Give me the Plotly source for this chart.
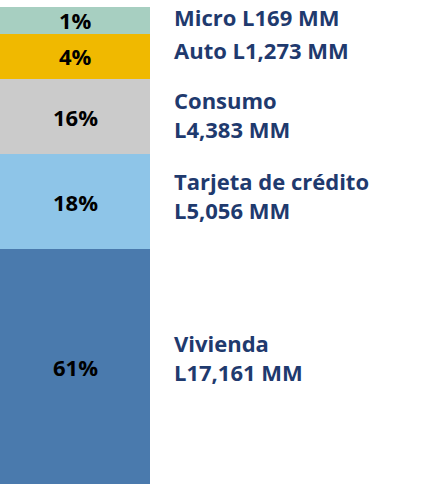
import plotly.graph_objects as go

# Data (bottom to top)
categories = ["Vivienda", "Tarjeta de crédito", "Consumo", "Auto", "Micro"]
amounts = ["L17,161 MM", "L5,056 MM", "L4,383 MM", "L1,273 MM", "L169 MM"]
shares = ["61%", "18%", "16%", "4%", "1%"]
# Visual segment heights as drawn in the reference (not proportional to share)
display_heights = [235, 95, 75, 45.5, 26.5]

colors = ["#4A7AAD", "#8EC5E8", "#CBCBCB", "#F0B900", "#A7CFC1"]
label_shift = [9, 6, 2, 6, 3]          # vertical nudges of right labels (px)
two_line = [True, True, True, False, False]
LINE_HALF_GAP = 14.25
FONT = "Open Sans"

fig = go.Figure()
base = 0
for cat, h, col in zip(categories, display_heights, colors):
    fig.add_trace(go.Bar(x=[0], y=[h], base=[base], width=[1], marker=dict(color=col, line=dict(width=0)),
                         name=cat, hoverinfo="skip", showlegend=False))
    base += h

navy = "#1F3A6E"
base = 0
for cat, amt, sh, h, col, dy, tl in zip(categories, amounts, shares, display_heights, colors, label_shift, two_line):
    c = base + h / 2
    fig.add_annotation(x=0, y=c, xref="x", yref="y", text=sh, showarrow=False,
                       font=dict(family=FONT, size=22, color="#000000", weight="bold"),
                       xanchor="center", yanchor="middle")
    lines = [(cat, LINE_HALF_GAP), (amt, -LINE_HALF_GAP)] if tl else [(f"{cat} {amt}", 0)]
    for txt, off in lines:
        fig.add_annotation(x=172 / 431, y=c, xref="paper", yref="y", text=txt, showarrow=False,
                           font=dict(family=FONT, size=22, color=navy, weight="bold"),
                           xanchor="left", yanchor="middle", align="left", yshift=dy + off)
    base += h

fig.update_layout(
    width=431, height=486, margin=dict(l=0, r=0, t=0, b=0),
    paper_bgcolor="white", plot_bgcolor="white", barmode="overlay", bargap=0,
    xaxis=dict(range=[-0.5, -0.5 + 431 / 150], visible=False, fixedrange=True),
    yaxis=dict(range=[-2, 484], visible=False, fixedrange=True),
)
fig.write_html("out.html", config={"displayModeBar": False},
               post_script="document.body.style.margin='0';document.body.style.overflow='hidden';")
